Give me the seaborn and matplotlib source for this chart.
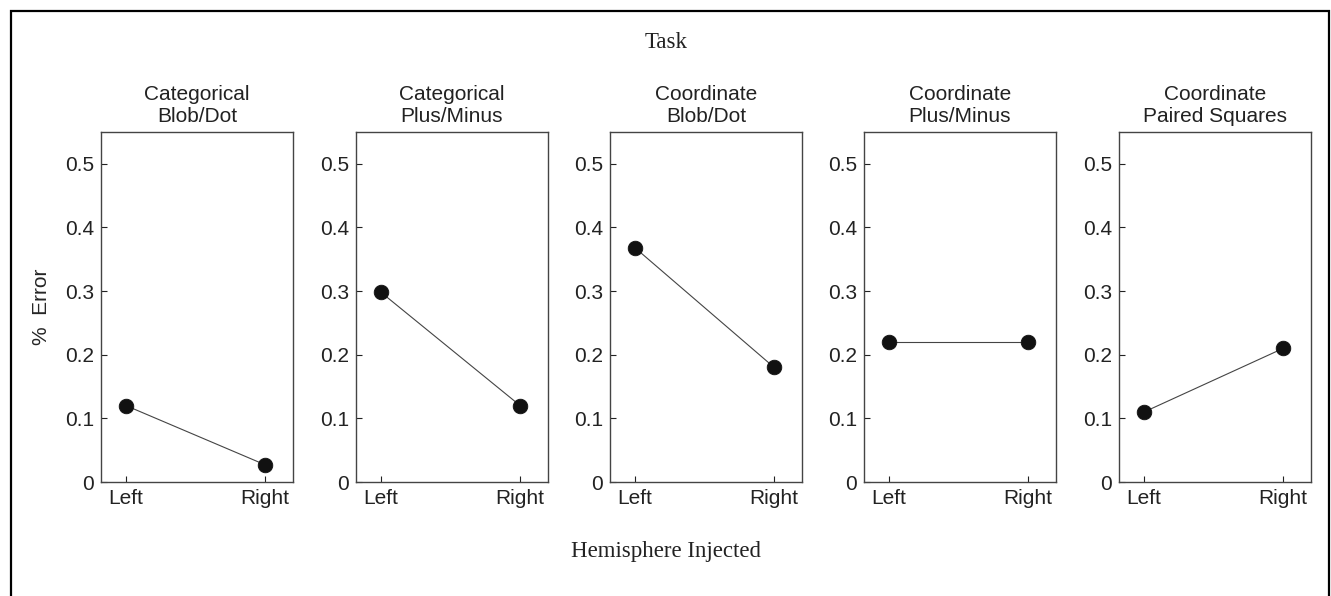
import seaborn as sns
import matplotlib.pyplot as plt
import pandas as pd
from matplotlib.patches import Rectangle

# data
tasks = ["Categorical\nBlob/Dot", "Categorical\nPlus/Minus", "Coordinate\nBlob/Dot",
         "Coordinate\nPlus/Minus", "Coordinate\nPaired Squares"]
hemispheres = ["Left", "Right"]
left_error = [0.12, 0.298, 0.368, 0.22, 0.11]
right_error = [0.027, 0.12, 0.18, 0.22, 0.21]

rows = []
for t, l, r in zip(tasks, left_error, right_error):
    rows.append({"task": t, "hemisphere": "Left", "error": l})
    rows.append({"task": t, "hemisphere": "Right", "error": r})
df = pd.DataFrame(rows)

sns.set_style("white")
plt.rcParams['font.family'] = ['Liberation Sans', 'DejaVu Sans']
plt.rcParams['text.color'] = '#222222'
plt.rcParams['xtick.color'] = '#222222'
plt.rcParams['ytick.color'] = '#222222'

W, H = 1331, 596
fig = plt.figure(figsize=(W / 100, H / 100), dpi=100)

# outer frame
fig.patches.append(Rectangle((11 / W, -0.05), (1329 - 11) / W, 1.05 - 11 / H,
                             transform=fig.transFigure, fill=False,
                             edgecolor='black', linewidth=1.6))

lefts = [101, 356, 610, 864, 1119]
ax_w, top, bottom = 192, 132, 482
fs = 15

for i, (t, x0) in enumerate(zip(tasks, lefts)):
    ax = fig.add_axes([x0 / W, (H - bottom) / H, ax_w / W, (bottom - top) / H])
    sub = df[df["task"] == t]
    sns.pointplot(data=sub, x="hemisphere", y="error", order=hemispheres,
                  errorbar=None, color="#444444", markers="o", markersize=10.5,
                  linewidth=0.8, ax=ax)
    for ln in ax.lines:
        ln.set_markerfacecolor("#111111")
        ln.set_markeredgecolor("#111111")
    ax.set_xlim(-0.18, 1.2)
    ax.set_ylim(0, 0.55)
    ax.set_yticks([0, 0.1, 0.2, 0.3, 0.4, 0.5])
    ax.set_yticklabels(["0", "0.1", "0.2", "0.3", "0.4", "0.5"])
    ax.tick_params(direction='in', length=4, width=0.8, labelsize=fs, pad=5,
                   left=True, bottom=True)
    ax.set_xlabel("")
    ax.set_ylabel("")
    ax.set_title(t, fontsize=fs, pad=7, linespacing=1.25)
    for s in ax.spines.values():
        s.set_color("#444444")
        s.set_linewidth(1.0)
        s.set_visible(True)
    if i == 0:
        ax.set_ylabel("%  Error", fontsize=fs, labelpad=10)

fig.text(666 / W, 1 - 43 / H, "Task", ha='center', va='center',
         fontsize=16.5, family=['Liberation Serif', 'DejaVu Serif'])
fig.text(666 / W, 1 - 552 / H, "Hemisphere Injected", ha='center', va='center',
         fontsize=16.5, family=['Liberation Serif', 'DejaVu Serif'])

fig.savefig("out.png", dpi=100)
